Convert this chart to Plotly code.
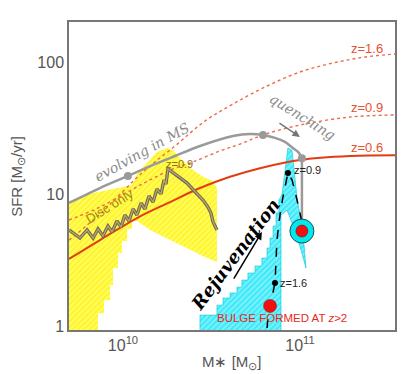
import numpy as np
import plotly.graph_objects as go

# ---------------- data (log10 M*, SFR [Msun/yr]) ----------------
ms06_logm = [9.695, 9.870, 10.079, 10.266, 10.435, 10.605, 10.774, 11.0, 11.283, 11.537]
ms06_sfr = [3.22, 4.48, 6.58, 8.69, 11.1, 13.5, 15.7, 18.1, 19.4, 19.7]

ms09_logm = [9.695, 9.870, 10.028, 10.153, 10.283, 10.396, 10.548, 10.661, 10.791, 11.0, 11.283, 11.537]
ms09_sfr = [6.35, 7.97, 10.4, 12.8, 15.5, 17.5, 21.2, 23.9, 28.0, 33.3, 38.3, 39.7]

ms16_logm = [9.695, 9.870, 10.113, 10.294, 10.463, 10.622, 10.814, 11.0, 11.187, 11.367, 11.537]
ms16_sfr = [4.48, 7.05, 14.7, 23.1, 35.7, 48.1, 65.8, 84.0, 98.3, 109, 115]

evol_logm = [9.695, 9.870, 10.028, 10.170, 10.294, 10.435, 10.622, 10.718, 10.791, 10.859, 10.915, 10.960, 10.994, 11.011]
evol_sfr = [8.55, 11.1, 13.7, 16.6, 19.4, 23.1, 27.5, 28.5, 28.0, 26.6, 24.8, 22.3, 20.5, 18.7]
quench_logm = [11.011, 11.011]
quench_sfr = [18.7, 6.35]
evol_dot_logm = [10.028, 10.791, 11.011]
evol_dot_sfr = [13.7, 28.0, 18.7]

disc_logm = [9.695, 9.757, 9.797, 9.831, 9.859, 9.887, 9.915, 9.938, 9.966, 9.989, 10.011, 10.034,
             10.057, 10.079, 10.102, 10.124, 10.147, 10.170, 10.192, 10.215, 10.232, 10.243, 10.254,
             10.305, 10.362, 10.407, 10.452, 10.480, 10.497, 10.509, 10.531]
disc_sfr = [5.34, 4.64, 5.34, 4.64, 5.43, 4.81, 5.72, 5.15, 6.24, 5.62, 6.93, 6.24,
            7.70, 6.93, 8.55, 7.70, 9.66, 8.70, 10.9, 10.0, 12.8, 11.9, 15.5,
            13.9, 12.1, 10.4, 9.01, 7.97, 7.18, 6.14, 5.34]

yellow_logm = [9.695, 9.757, 9.780, 9.870, 9.983, 10.051, 10.074, 10.096, 10.136, 10.164, 10.192, 10.249,
               10.283, 10.322, 10.362, 10.396, 10.452, 10.509, 10.531, 10.531, 10.463, 10.396, 10.322,
               10.266, 10.209, 10.153, 10.113, 10.079, 10.051, 10.051, 10.023, 10.023, 9.994, 9.994,
               9.972, 9.972, 9.944, 9.944, 9.927, 9.927, 9.893, 9.893, 9.859, 9.859, 9.695]
yellow_sfr = [8.85, 9.17, 9.83, 10.4, 11.1, 11.7, 13.7, 15.2, 17.2, 19.1, 20.8, 22.3,
              21.5, 18.7, 16.6, 15.2, 13.5, 12.5, 11.1, 3.05, 3.33, 3.70, 4.11,
              4.48, 4.89, 5.34, 5.82, 6.24, 6.24, 5.43, 5.43, 4.40, 4.40, 3.57,
              3.57, 2.75, 2.75, 2.05, 2.05, 1.57, 1.57, 1.25, 1.25, 0.93, 0.93]

cyan_logm = [10.435, 10.435, 10.531, 10.531, 10.565, 10.565, 10.605, 10.605, 10.644, 10.644, 10.672, 10.672,
             10.706, 10.706, 10.746, 10.746, 10.785, 10.785, 10.814, 10.814, 10.831, 10.831, 10.848, 10.848,
             10.865, 10.865, 10.881, 10.881, 10.898, 10.915, 10.932, 10.955, 10.972, 10.983, 11.000, 11.023,
             11.034, 11.006, 10.966, 10.927, 10.893, 10.893]
cyan_sfr = [0.93, 1.21, 1.21, 1.44, 1.44, 1.63, 1.63, 1.78, 1.78, 1.97, 1.97, 2.23,
            2.23, 2.52, 2.52, 2.85, 2.85, 3.27, 3.27, 3.90, 3.90, 4.64, 4.64, 5.72,
            5.72, 7.18, 7.18, 9.01, 9.83, 15.7, 22.3, 21.5, 13.9, 9.5, 6.93, 4.11,
            2.75, 3.77, 5.53, 7.57, 6.93, 0.93]

track_logm = [10.814, 10.819, 10.831, 10.848, 10.859, 10.865, 10.870, 10.887, 10.904, 10.932, 10.955, 10.977, 10.994, 11.011]
track_sfr = [0.966, 1.15, 1.42, 1.78, 2.12, 3.16, 4.48, 6.93, 9.5, 14.4, 12.8, 9.83, 7.57, 6.14]
track_dot_logm = [10.859, 10.932]
track_dot_sfr = [2.12, 14.4]

bulge_logm = [10.831]
bulge_sfr = [1.42]
final_logm = [11.011]
final_sfr = [5.24]

x_ticks = [1e10, 1e11]
x_ticktext = ["10<sup>10</sup>", "10<sup>11</sup>"]
y_ticks = [1, 10, 100]
y_ticktext = ["1", "10", "100"]

def M(a):
    return 10 ** np.array(a)

fig = go.Figure()

fig.add_trace(go.Scatter(x=M(yellow_logm), y=yellow_sfr, mode="lines", fill="toself",
                         line=dict(width=0), fillcolor="#ffff50",
                         fillpattern=dict(shape="/", fgcolor="#ffe800", bgcolor="#ffff60", size=4, solidity=0.55),
                         hoverinfo="skip"))
fig.add_trace(go.Scatter(x=M(cyan_logm), y=cyan_sfr, mode="lines", fill="toself",
                         line=dict(width=0.6, color="#00c8d8"), fillcolor="#70f0ff",
                         fillpattern=dict(shape="/", fgcolor="#00e0f0", bgcolor="#80f2ff", size=4, solidity=0.55),
                         hoverinfo="skip"))

fig.add_trace(go.Scatter(x=M(ms16_logm), y=ms16_sfr, mode="lines", line=dict(color="#f06a4a", width=1.4, dash="dot", shape="spline")))
fig.add_trace(go.Scatter(x=M(ms09_logm), y=ms09_sfr, mode="lines", line=dict(color="#f06a4a", width=1.4, dash="dot", shape="spline")))
fig.add_trace(go.Scatter(x=M(ms06_logm), y=ms06_sfr, mode="lines", line=dict(color="#e23c14", width=2, shape="spline")))

fig.add_trace(go.Scatter(x=M(evol_logm), y=evol_sfr, mode="lines", line=dict(color="#9a9a9a", width=2.5, shape="spline")))
fig.add_trace(go.Scatter(x=M(quench_logm), y=quench_sfr, mode="lines", line=dict(color="#9a9a9a", width=2.5)))
fig.add_trace(go.Scatter(x=M(evol_dot_logm), y=evol_dot_sfr, mode="markers", marker=dict(color="#9a9a9a", size=8)))

fig.add_trace(go.Scatter(x=M(disc_logm), y=disc_sfr, mode="lines", line=dict(color="#6a6a6a", width=3.4)))
fig.add_trace(go.Scatter(x=M(disc_logm), y=disc_sfr, mode="lines", line=dict(color="#c9a84a", width=1.2)))

fig.add_trace(go.Scatter(x=M(track_logm), y=track_sfr, mode="lines", line=dict(color="black", width=1.5, dash="dash")))
fig.add_trace(go.Scatter(x=M(track_dot_logm), y=track_dot_sfr, mode="markers", marker=dict(color="black", size=6)))

fig.add_trace(go.Scatter(x=M(final_logm), y=final_sfr, mode="markers",
                         marker=dict(color="#00e8f0", size=24, line=dict(color="#205050", width=1))))
fig.add_trace(go.Scatter(x=M(final_logm), y=final_sfr, mode="markers",
                         marker=dict(color="#f01010", size=12, line=dict(color="#700000", width=0.5))))
fig.add_trace(go.Scatter(x=M(bulge_logm), y=bulge_sfr, mode="markers",
                         marker=dict(color="#f01010", size=13, line=dict(color="#a00000", width=0.5))))

red_txt = "#e8502e"
grey_txt = "#8c8c8c"
ann = []
def txt(x, y, t, size, color, angle=0, family="Liberation Sans"):
    ann.append(dict(x=x, y=y, xref="x", yref="y", text=t, showarrow=False, textangle=angle,
                    font=dict(size=size, color=color, family=family), xanchor="center", yanchor="middle"))

txt(11.379, 2.106, "z=1.6", 13, red_txt)
txt(11.379, 1.652, "z=0.9", 13, red_txt)
txt(11.379, 1.356, "z=0.6", 13, red_txt)
txt(11.017, 1.583, "<i>quenching</i>", 14, grey_txt, 32, "DejaVu Serif")
txt(10.107, 1.318, "<i>evolving in MS</i>", 14, grey_txt, -29, "DejaVu Serif")
txt(9.921, 0.909, "Disc only", 13, "#a08810", -32)
txt(10.322, 1.227, "z=0.9", 11, "#8a7410")
txt(11.045, 1.182, "z=0.9", 11, "#222222")
txt(10.966, 0.326, "z=1.6", 11, "#222222")
txt(10.633, 0.545, "<b><i>Rejuvenation</i></b>", 18, "black", -53, "DejaVu Serif")
txt(10.898, 0.061, "BULGE FORMED AT <i>z</i>>2", 11.5, "#e82818")

ann.append(dict(x=11.0, y=1.432, xref="x", yref="y", ax=-22, ay=-15, text="", showarrow=True,
                arrowhead=2, arrowsize=1, arrowwidth=1.5, arrowcolor="#777"))
ann.append(dict(x=10.785, y=0.712, xref="x", yref="y", ax=-29, ay=48, text="", showarrow=True,
                arrowhead=2, arrowsize=1, arrowwidth=1.5, arrowcolor="black"))

ann.append(dict(x=0.5, y=-0.107, xref="paper", yref="paper", text="M∗ [M<sub>⊙</sub>]", showarrow=False,
                font=dict(size=15, color="#555", family="Liberation Sans"), xanchor="center", yanchor="middle"))
ann.append(dict(x=-0.16, y=0.5, xref="paper", yref="paper", text="SFR [M<sub>⊙</sub>/yr]", showarrow=False,
                textangle=-90, font=dict(size=15, color="#555", family="Liberation Sans"),
                xanchor="center", yanchor="middle"))

fig.update_layout(
    width=415, height=374,
    margin=dict(l=61, r=28, t=14, b=52),
    paper_bgcolor="white", plot_bgcolor="white",
    showlegend=False,
    annotations=ann,
    font=dict(family="Liberation Sans", color="#555"),
)
fig.update_xaxes(type="log", range=[9.695, 11.537], tickvals=x_ticks, ticktext=x_ticktext,
                 showgrid=False, zeroline=False, ticks="", showline=True, mirror=True,
                 linecolor="#777", linewidth=1.5, tickfont=dict(size=16, color="#555"), automargin=False)
fig.update_yaxes(type="log", range=[-0.03, 2.303], tickvals=y_ticks, ticktext=y_ticktext,
                 showgrid=False, zeroline=False, ticks="", showline=True, mirror=True,
                 linecolor="#777", linewidth=1.5, tickfont=dict(size=16, color="#555"), automargin=False)

fig.write_html("out.html")
